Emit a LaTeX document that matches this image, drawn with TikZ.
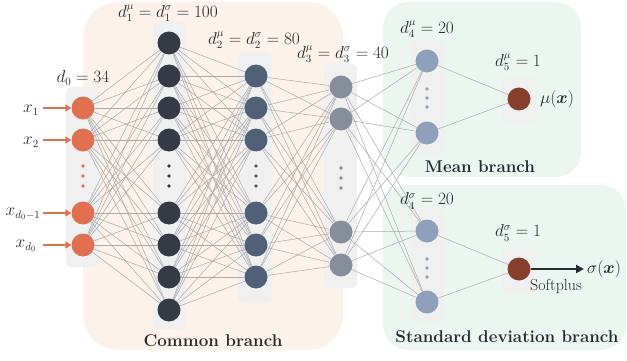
\documentclass[tikz,border=0pt]{standalone}
\usepackage{amsmath,bm}
\usetikzlibrary{arrows.meta}
\pgfdeclarelayer{back}
\pgfdeclarelayer{wires}
\pgfsetlayers{back,wires,main}

\definecolor{inred}{HTML}{E07050}
\definecolor{hidA}{HTML}{343A46}
\definecolor{hidB}{HTML}{506076}
\definecolor{hidC}{HTML}{858E9A}
\definecolor{hidD}{HTML}{8FA0BB}
\definecolor{outbr}{HTML}{853F2A}
\definecolor{peach}{HTML}{FCF2E9}
\definecolor{mint}{HTML}{EAF6EF}
\definecolor{strip}{HTML}{F0F0F0}
\definecolor{wire}{HTML}{ABABAB}
\definecolor{ink}{HTML}{262A33}

\tikzset{
  neuron/.style={circle, fill=#1, minimum size=23pt, inner sep=0pt},
  layerbox/.style={fill=strip, rounded corners=5pt},
  dimlabel/.style={font=\fontsize{16}{18}\selectfont, text=ink},
  branchlabel/.style={font=\fontsize{17}{20}\selectfont\bfseries, text=ink},
  link/.style={draw=wire, line width=0.5pt},
  inarrow/.style={draw=inred, line width=2pt, -{Triangle[length=6pt,width=7pt]}},
  outarrow/.style={draw=ink, line width=2.6pt, -{Triangle[length=8pt,width=8pt]}},
}

\begin{document}
\begin{tikzpicture}[x=1pt,y=-1pt]
\useasboundingbox (0,0) rectangle (627,361);

\begin{pgfonlayer}{back}
% branches
\fill[peach, rounded corners=35pt] (83,2) rectangle (343,350);
\fill[mint, rounded corners=25pt] (383,2) rectangle (581,177);
\fill[mint, rounded corners=25pt] (383,185) rectangle (626,350);
% layer strips
\fill[layerbox] (66,87) rectangle (99,267);
\fill[layerbox] (153,21) rectangle (186,329);
\fill[layerbox] (238,52) rectangle (272,303);
\fill[layerbox] (324,64) rectangle (357,288);
\fill[layerbox] (411,40) rectangle (444,153);
\fill[layerbox] (411,209) rectangle (444,321);
\fill[layerbox] (502,77) rectangle (536,123);
\fill[layerbox] (502,248) rectangle (536,294);
\end{pgfonlayer}

% neurons
\foreach \y [count=\i] in {108,140,213,245}
  \node[neuron=inred] (L0-\i) at (83,\y) {};
\foreach \y [count=\i] in {43,76,108,140,213,245,277,310}
  \node[neuron=hidA] (L1-\i) at (169,\y) {};
\foreach \y [count=\i] in {76,108,140,213,245,277}
  \node[neuron=hidB] (L2-\i) at (256,\y) {};
\foreach \y [count=\i] in {87,119,232,265}
  \node[neuron=hidC] (L3-\i) at (341,\y) {};
\node[neuron=hidD] (M4-1) at (427,61) {};
\node[neuron=hidD] (M4-2) at (427,133) {};
\node[neuron=hidD] (S4-1) at (427,231) {};
\node[neuron=hidD] (S4-2) at (427,302) {};
\node[neuron=outbr] (M5) at (519,99) {};
\node[neuron=outbr] (S5) at (519,269) {};

% dots
\foreach \y in {166,176,186} {
  \fill[inred] (83,\y) circle (1.8pt);
  \fill[hidA] (169,\y) circle (1.8pt);
  \fill[hidB] (256,\y) circle (1.8pt);
  \fill[hidC] (341,\y+2) circle (1.8pt);
}
\foreach \y in {89,98,107} {
  \fill[hidD] (427,\y) circle (1.8pt);
  \fill[hidD] (427,\y+170) circle (1.8pt);
}

% connections
\begin{pgfonlayer}{wires}
\foreach \a in {1,...,4} \foreach \b in {1,...,8} \draw[link] (L0-\a) -- (L1-\b);
\foreach \a in {1,...,8} \foreach \b in {1,...,6} \draw[link] (L1-\a) -- (L2-\b);
\foreach \a in {1,...,6} \foreach \b in {1,...,4} \draw[link] (L2-\a) -- (L3-\b);
\foreach \a in {1,...,4} \foreach \b in {M4-1,M4-2,S4-1,S4-2} \draw[link] (L3-\a) -- (\b);
\foreach \b in {M4-1,M4-2} \draw[link] (\b) -- (M5);
\foreach \b in {S4-1,S4-2} \draw[link] (\b) -- (S5);
\end{pgfonlayer}

% inputs
\foreach \y [count=\i] in {108,140,213,245}
  \coordinate (in-\i) at (43,\y);
\foreach \i in {1,...,4} \draw[inarrow] (in-\i) -- (L0-\i);
\node[dimlabel] (x1) at (31,110) {$x_1$};
\node[dimlabel] (x2) at (31,142) {$x_2$};
\node[dimlabel] (x3) at (23,214) {$x_{d_0-1}$};
\node[dimlabel] (x4) at (26,246) {$x_{d_0}$};

% output
\coordinate (sd-out) at (584,269);
\draw[outarrow] (S5) -- (sd-out);

% sizes
\node[dimlabel] (d0) at (83,78) {$d_0 = 34$};
\node[dimlabel] (d1) at (168,13) {$d_1^{\mu} = d_1^{\sigma} = 100$};
\node[dimlabel] (d2) at (254,40) {$d_2^{\mu} = d_2^{\sigma} = 80$};
\node[dimlabel] (d3) at (343,54) {$d_3^{\mu} = d_3^{\sigma} = 40$};
\node[dimlabel] (dm4) at (427,29) {$d_4^{\mu} = 20$};
\node[dimlabel] (ds4) at (427,201) {$d_4^{\sigma} = 20$};
\node[dimlabel] (dm5) at (518,62) {$d_5^{\mu} = 1$};
\node[dimlabel] (ds5) at (518,233) {$d_5^{\sigma} = 1$};
\node[dimlabel] (mu) at (557,99) {$\mu(\bm{x})$};
\node[dimlabel] (sigma) at (604,269) {$\sigma(\bm{x})$};
\node[dimlabel] (softplus) at (556,286) {Softplus};

\node[branchlabel] (common) at (213,341) {Common branch};
\node[branchlabel] (mean) at (480,167) {Mean branch};
\node[branchlabel] (sdev) at (507,337) {Standard deviation branch};

\end{tikzpicture}
\end{document}
